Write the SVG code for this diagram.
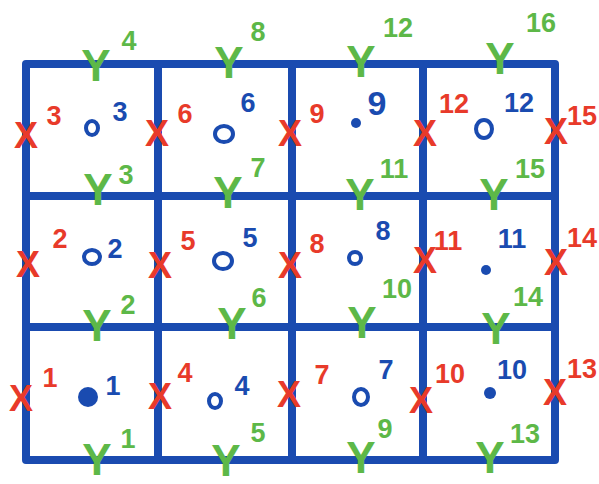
<svg xmlns="http://www.w3.org/2000/svg" width="599" height="484" viewBox="0 0 599 484">
<style>
.grid{fill:none;stroke:#1a4bb0;stroke-width:8;stroke-linecap:round;stroke-linejoin:round}
.xm{fill:#e83a2a;font-family:"Liberation Sans",Arial,sans-serif;font-weight:bold;font-size:36px;text-anchor:middle}
.xl{fill:#e83a2a;font-family:"Liberation Sans",Arial,sans-serif;font-weight:bold;font-size:27px;text-anchor:middle}
.ym{fill:#5db848;font-family:"Liberation Sans",Arial,sans-serif;font-weight:bold;font-size:44px;text-anchor:middle}
.yl{fill:#5db848;font-family:"Liberation Sans",Arial,sans-serif;font-weight:bold;font-size:27px;text-anchor:middle}
.bl{fill:#1a4bb0;font-family:"Liberation Sans",Arial,sans-serif;font-weight:bold;font-size:27px;text-anchor:middle}
.oc{fill:none;stroke:#1a4bb0;stroke-width:4}
.od{fill:#1a4bb0}
</style>
<rect width="599" height="484" fill="#ffffff"/>
<g id="grid">
<path class="grid" d="M26 64 H555 V460 H26 Z M158 64 V460 M292 64 V460 M423 64 V460 M26 196 H555 M26 327 H555"/>
</g>
<g id="x-markers">
<text class="xm" x="26" y="148">X</text><text class="xl" x="54" y="125">3</text>
<text class="xm" x="28" y="277">X</text><text class="xl" x="60" y="248">2</text>
<text class="xm" x="21" y="411">X</text><text class="xl" x="50" y="387">1</text>
<text class="xm" x="157" y="146">X</text><text class="xl" x="185" y="123">6</text>
<text class="xm" x="160" y="278">X</text><text class="xl" x="188" y="250">5</text>
<text class="xm" x="160" y="409">X</text><text class="xl" x="185" y="382">4</text>
<text class="xm" x="290" y="146">X</text><text class="xl" x="317" y="123">9</text>
<text class="xm" x="290" y="278">X</text><text class="xl" x="317" y="253">8</text>
<text class="xm" x="289" y="407">X</text><text class="xl" x="322" y="384">7</text>
<text class="xm" x="425" y="146">X</text><text class="xl" x="454" y="113">12</text>
<text class="xm" x="425" y="273">X</text><text class="xl" x="448" y="250">11</text>
<text class="xm" x="421" y="413">X</text><text class="xl" x="450" y="383">10</text>
<text class="xm" x="556" y="144">X</text><text class="xl" x="582" y="125">15</text>
<text class="xm" x="556" y="275">X</text><text class="xl" x="582" y="247">14</text>
<text class="xm" x="555" y="405">X</text><text class="xl" x="582" y="378">13</text>
</g>
<g id="y-markers">
<text class="ym" x="96" y="81">Y</text><text class="yl" x="129" y="50">4</text>
<text class="ym" x="229" y="78">Y</text><text class="yl" x="258" y="41">8</text>
<text class="ym" x="361" y="77">Y</text><text class="yl" x="398" y="37">12</text>
<text class="ym" x="500" y="74">Y</text><text class="yl" x="541" y="32">16</text>
<text class="ym" x="98" y="205">Y</text><text class="yl" x="126" y="184">3</text>
<text class="ym" x="228" y="208">Y</text><text class="yl" x="258" y="177">7</text>
<text class="ym" x="360" y="210">Y</text><text class="yl" x="394" y="178">11</text>
<text class="ym" x="494" y="210">Y</text><text class="yl" x="530" y="178">15</text>
<text class="ym" x="97" y="341">Y</text><text class="yl" x="128" y="314">2</text>
<text class="ym" x="232" y="339">Y</text><text class="yl" x="259" y="307">6</text>
<text class="ym" x="362" y="338">Y</text><text class="yl" x="397" y="298">10</text>
<text class="ym" x="496" y="344">Y</text><text class="yl" x="528" y="306">14</text>
<text class="ym" x="97" y="475">Y</text><text class="yl" x="128" y="448">1</text>
<text class="ym" x="226" y="476">Y</text><text class="yl" x="258" y="442">5</text>
<text class="ym" x="361" y="473">Y</text><text class="yl" x="385" y="438">9</text>
<text class="ym" x="490" y="473">Y</text><text class="yl" x="525" y="443">13</text>
</g>
<g id="cell-3"><ellipse class="oc" cx="92" cy="128" rx="6" ry="7"/><text class="bl" x="120" y="121">3</text></g>
<g id="cell-6"><ellipse class="oc" cx="224" cy="134" rx="9" ry="8"/><text class="bl" x="248" y="112">6</text></g>
<g id="cell-9"><circle class="od" cx="356" cy="123" r="5"/><text class="bl" x="377" y="115" style="font-size:34px">9</text></g>
<g id="cell-12"><ellipse class="oc" cx="484" cy="129" rx="8" ry="9"/><text class="bl" x="519" y="112">12</text></g>
<g id="cell-2"><ellipse class="oc" cx="92" cy="257" rx="8" ry="7"/><text class="bl" x="115" y="258">2</text></g>
<g id="cell-5"><ellipse class="oc" cx="223" cy="261" rx="9" ry="8"/><text class="bl" x="250" y="247">5</text></g>
<g id="cell-8"><ellipse class="oc" cx="355" cy="258" rx="6" ry="6"/><text class="bl" x="383" y="240">8</text></g>
<g id="cell-11"><circle class="od" cx="486" cy="270" r="5"/><text class="bl" x="512" y="248">11</text></g>
<g id="cell-1"><circle class="od" cx="88" cy="397" r="10"/><text class="bl" x="113" y="395">1</text></g>
<g id="cell-4"><ellipse class="oc" cx="215" cy="401" rx="6" ry="7"/><text class="bl" x="242" y="395">4</text></g>
<g id="cell-7"><ellipse class="oc" cx="361" cy="397" rx="7" ry="8"/><text class="bl" x="386" y="379">7</text></g>
<g id="cell-10"><circle class="od" cx="490" cy="393" r="6"/><text class="bl" x="512" y="379">10</text></g>
</svg>
